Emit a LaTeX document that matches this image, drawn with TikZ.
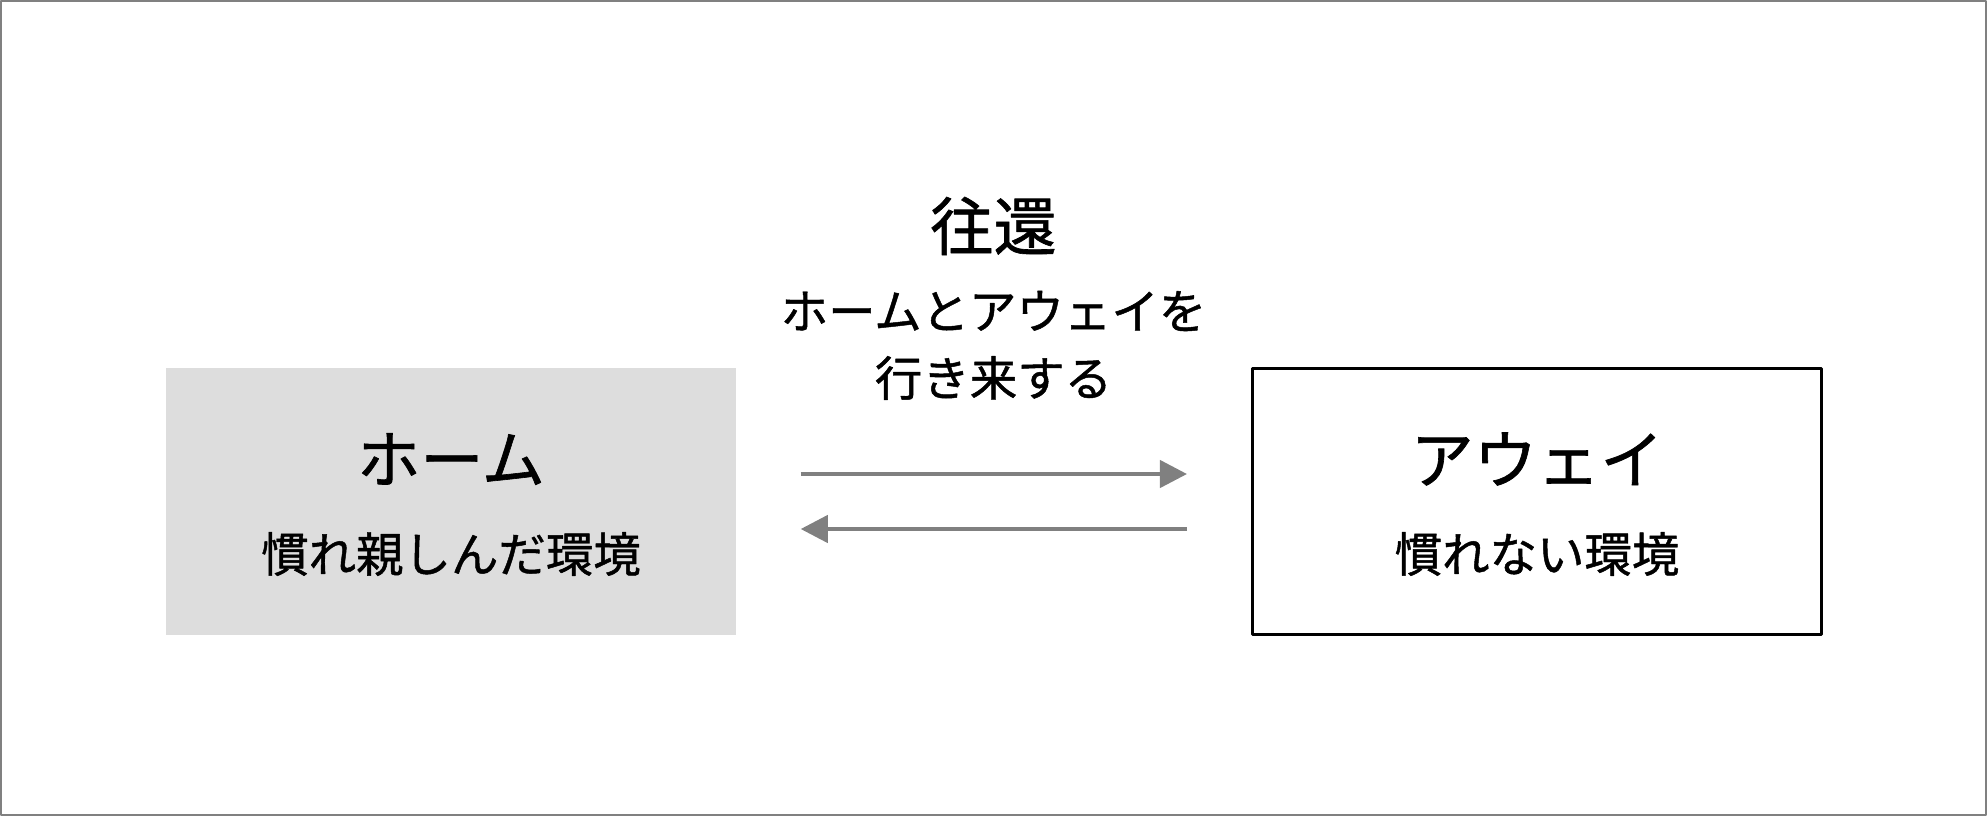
\documentclass[tikz,border=0pt]{standalone}
\usepackage{fontspec}
\setmainfont{Noto Sans CJK JP}[FakeBold=1]
\usetikzlibrary{arrows.meta, positioning}

\definecolor{homegray}{HTML}{DDDDDD}
\definecolor{arrowgray}{HTML}{808080}
\definecolor{framegray}{HTML}{808080}

\begin{document}
\begin{tikzpicture}[line cap=round,line join=round,
    bigtext/.style={font=\fontsize{18}{22}\selectfont, inner sep=0pt},
    smalltext/.style={font=\fontsize{13.5}{16}\selectfont, inner sep=0pt},
    envbox/.style={minimum width=5.70cm, minimum height=2.67cm, inner sep=0pt},
    move/.style={-{Triangle[length=7.7pt,width=7.7pt]}, line width=1.2pt, draw=arrowgray, line cap=butt, shorten >=0.64cm, shorten <=0.64cm}]

    % Frame
    \useasboundingbox (0,0) rectangle (19.87,8.16);
    \draw[framegray, line width=0.6pt] (0.01,0.01) rectangle (19.86,8.15);

    % Home and away boxes
    \node[envbox, fill=homegray] (home) at (4.51,3.145) {};
    \node[envbox, draw=black, line width=0.85pt, minimum width=5.69cm, minimum height=2.66cm] (away) at (15.37,3.145) {};

    % Box texts
    \node[bigtext] (homename) at (4.51,3.57) {ホーム};
    \node[smalltext] (homedesc) at (4.51,2.62) {慣れ親しんだ環境};
    \node[bigtext] (awayname) at (15.37,3.57) {アウェイ};
    \node[smalltext] (awaydesc) at (15.37,2.62) {慣れない環境};

    % Title over the arrows
    \node[bigtext] (title) at (9.935,5.90) {往還};
    \node[smalltext] (titleone) at (9.935,5.05) {ホームとアウェイを};
    \node[smalltext] (titletwo) at (9.935,4.38) {行き来する};

    % Arrows home → away and away → home
    \draw[move] ([yshift=0.275cm]home.east) -- ([yshift=0.275cm]away.west);
    \draw[move] ([yshift=-0.275cm]away.west) -- ([yshift=-0.275cm]home.east);

\end{tikzpicture}
\end{document}
